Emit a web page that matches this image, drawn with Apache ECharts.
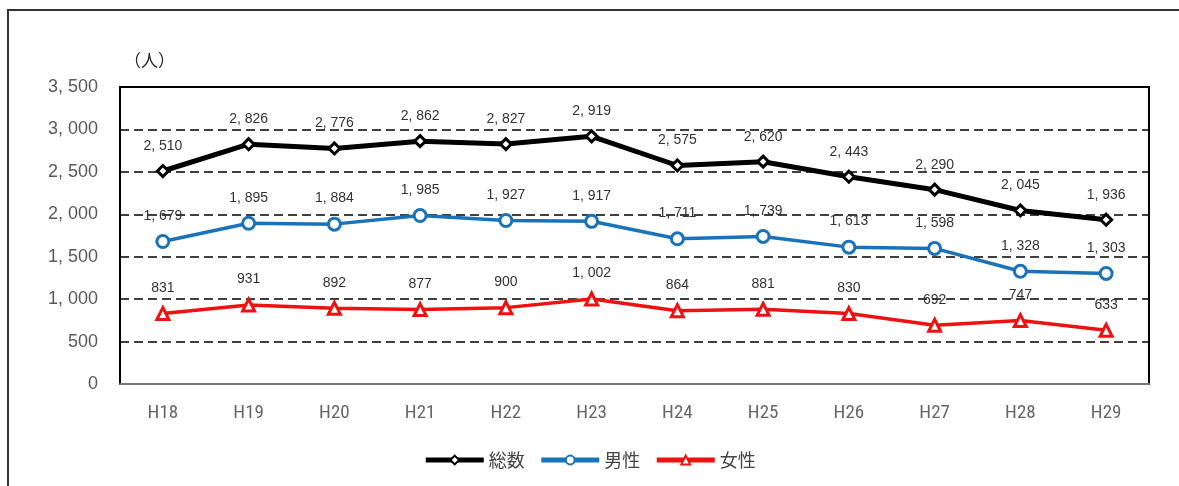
<!DOCTYPE html>
<html>
<head>
<meta charset="utf-8">
<script src="https://cdn.jsdelivr.net/npm/echarts@6/dist/echarts.min.js"></script>
<style>
html, body { margin: 0; padding: 0; background: #fff; }
#chart { width: 1179px; height: 486px; }
</style>
</head>
<body>
<div id="chart"></div>
<script>
// Fiscal years (Heisei)
const years = ['H18', 'H19', 'H20', 'H21', 'H22', 'H23', 'H24', 'H25', 'H26', 'H27', 'H28', 'H29'];
// Totals and breakdown by sex (persons)
const total = [2510, 2826, 2776, 2862, 2827, 2919, 2575, 2620, 2443, 2290, 2045, 1936];
const male = [1679, 1895, 1884, 1985, 1927, 1917, 1711, 1739, 1613, 1598, 1328, 1303];
const female = [831, 931, 892, 877, 900, 1002, 864, 881, 830, 692, 747, 633];
const seriesNames = ['総数', '男性', '女性'];
const unitLabel = '（人）';

// Thousands separator written as ", " (e.g. 2, 510)
function fmt(v) {
  const s = String(Math.round(v));
  return s.replace(/\B(?=(\d{3})+(?!\d))/g, ', ');
}

const numFont = '"Liberation Sans", "DejaVu Sans", sans-serif';
const narrowFont = '"Liberation Sans Narrow", "Roboto Condensed", "Liberation Sans", sans-serif';
const cjkFont = '"Noto Sans CJK JP", sans-serif';

const colors = ['#000000', '#1a72b8', '#ee1111'];

function lineSeries(name, data, color, symbol, symbolSize, width) {
  return {
    name: name,
    type: 'line',
    data: data,
    symbol: symbol,
    symbolSize: symbolSize,
    showAllSymbol: true,
    lineStyle: { color: color, width: width },
    itemStyle: { color: '#fff', borderColor: color, borderWidth: 3 },
    label: {
      show: true,
      position: 'top',
      distance: 11,
      color: '#333',
      fontSize: 14,
      fontFamily: numFont,
      formatter: p => fmt(p.value)
    },
    emphasis: { disabled: true },
    z: 3
  };
}

const chart = echarts.init(document.getElementById('chart'), null, { renderer: 'canvas' });
chart.setOption({
  animation: false,
  backgroundColor: '#fff',
  grid: {
    left: 120, right: 30, top: 87, bottom: 102,
    show: true, borderColor: '#000', borderWidth: 2, backgroundColor: 'transparent'
  },
  graphic: [
    {
      type: 'polyline',
      shape: { points: [[8, 486], [8, 10], [1179, 10]] },
      style: { stroke: '#333', lineWidth: 2, fill: null },
      silent: true
    },
    {
      type: 'text',
      left: 124, top: 52,
      style: { text: unitLabel, fontSize: 17, fontFamily: cjkFont, fill: '#222' }
    }
  ],
  legend: {
    data: seriesNames.map((n, i) => ({
      name: n,
      lineStyle: { width: 5, color: colors[i] }
    })),
    bottom: 12,
    left: 'center',
    itemWidth: 58,
    itemHeight: 11,
    itemGap: 14,
    textStyle: { fontSize: 18, fontFamily: cjkFont, color: '#444' }
  },
  xAxis: {
    type: 'category',
    data: years,
    boundaryGap: true,
    axisLine: { show: true, lineStyle: { color: '#777', width: 2 } },
    axisTick: { show: false },
    axisLabel: { color: '#666', fontSize: 19, fontWeight: 'normal', fontFamily: narrowFont, margin: 20 }
  },
  yAxis: {
    type: 'value',
    min: 0, max: 3500, interval: 500,
    axisLine: { show: true, lineStyle: { color: '#000', width: 2 } },
    axisTick: { show: false },
    axisLabel: { color: '#595959', fontSize: 18, fontFamily: numFont, margin: 22, formatter: v => fmt(v) },
    splitLine: { show: true, lineStyle: { color: '#000', width: 1.6, type: [9, 5] } }
  },
  series: [
    lineSeries(seriesNames[0], total, colors[0], 'diamond', 11, 5),
    lineSeries(seriesNames[1], male, colors[1], 'circle', 12, 3.5),
    lineSeries(seriesNames[2], female, colors[2], 'triangle', 12, 3.5)
  ]
});
</script>
</body>
</html>
